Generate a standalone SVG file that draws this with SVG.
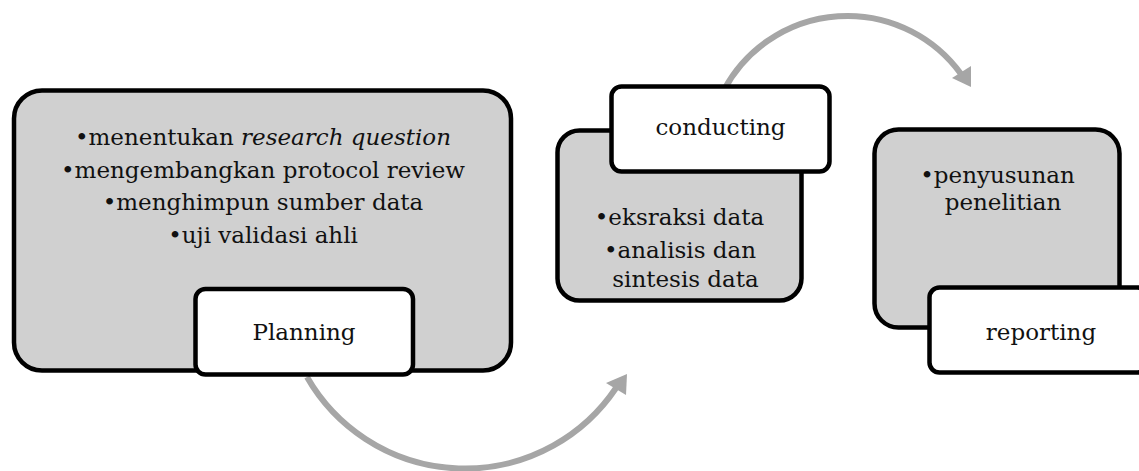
<svg xmlns="http://www.w3.org/2000/svg" width="1139" height="471" viewBox="0 0 1139 471">
<style>
.body{fill:#d0d0d0;stroke:#000;stroke-width:4.5}
.lbl{fill:#fff;stroke:#000;stroke-width:4.5}
.t{font-family:"DejaVu Serif","Liberation Serif",serif;font-size:23px;fill:#111;text-anchor:middle}
.arc{fill:none;stroke:#a6a6a6;stroke-width:6}
.head{fill:#a6a6a6}
</style>
<rect width="1139" height="471" fill="#fff"/>
<g id="connectors">
<path class="arc" d="M307,377 A182,182 0 0 0 616,388"/>
<polygon class="head" points="627,374 606,383 626,395"/>
<path class="arc" d="M724,90 A140,140 0 0 1 961,74"/>
<polygon class="head" points="971,87 952,78 971,66"/>
</g>
<g id="planning">
<rect class="body" x="14" y="90.5" width="497" height="280" rx="28"/>
<text class="t" x="263" y="145">•menentukan <tspan font-style="italic">research question</tspan></text>
<text class="t" x="263" y="177.5">•mengembangkan protocol review</text>
<text class="t" x="263" y="210">•menghimpun sumber data</text>
<text class="t" x="263" y="242.5">•uji validasi ahli</text>
<rect class="lbl" x="195.5" y="289" width="217.5" height="85.5" rx="10"/>
<text class="t" x="304" y="340">Planning</text>
</g>
<g id="conducting">
<rect class="body" x="557.5" y="130.5" width="244" height="170" rx="22"/>
<text class="t" x="679.5" y="225">•eksraksi data</text>
<text class="t" x="680" y="258">•analisis dan</text>
<text class="t" x="685.5" y="287">sintesis data</text>
<rect class="lbl" x="611.5" y="86.5" width="218" height="85" rx="10"/>
<text class="t" x="720.5" y="135">conducting</text>
</g>
<g id="reporting">
<rect class="body" x="874.5" y="129.5" width="245" height="198" rx="24"/>
<text class="t" x="997.5" y="183">•penyusunan</text>
<text class="t" x="1003" y="210">penelitian</text>
<rect class="lbl" x="929.5" y="287.5" width="218" height="85" rx="10"/>
<text class="t" x="1041" y="340">reporting</text>
</g>
</svg>
